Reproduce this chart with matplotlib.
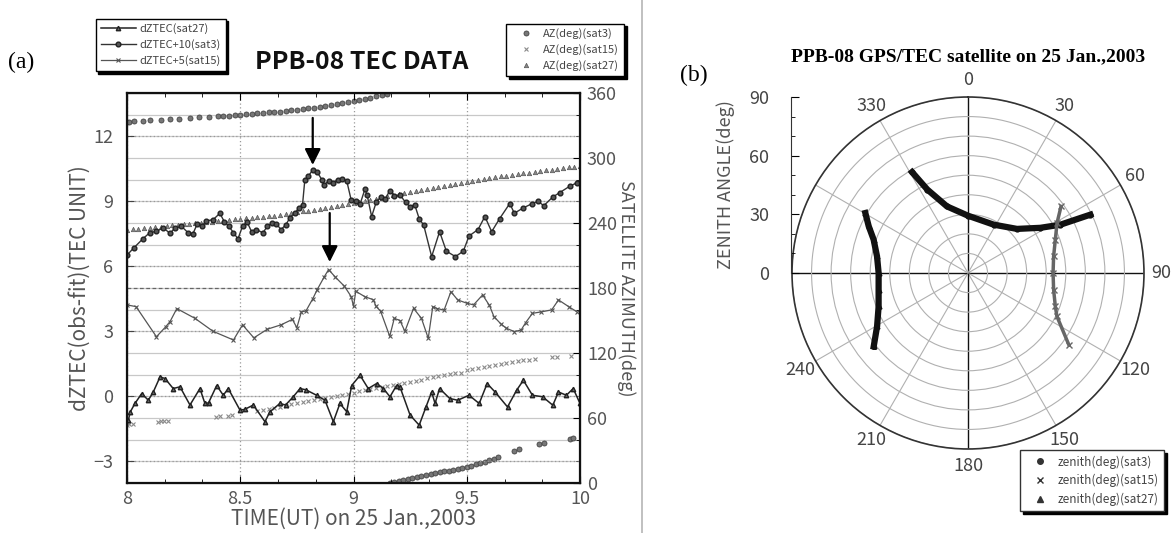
import numpy as np
import matplotlib
matplotlib.use("Agg")
import matplotlib.pyplot as plt
from matplotlib.ticker import MultipleLocator, FixedLocator
from matplotlib.lines import Line2D

NARROW = ["Noto Sans CJK JP", "DejaVu Sans"]
SERIF = ["Liberation Serif", "DejaVu Serif"]
plt.rcParams["font.family"] = NARROW

# ---------- dZTEC series (left axis, TEC unit) ----------
t_sat3 = [8.00, 8.03, 8.07, 8.10, 8.13, 8.16, 8.19, 8.21, 8.24, 8.27, 8.29, 8.31,
          8.33, 8.35, 8.38, 8.41, 8.43, 8.45, 8.47, 8.49, 8.51, 8.53, 8.55, 8.57,
          8.60, 8.62, 8.64, 8.66, 8.68, 8.70, 8.72, 8.74, 8.76, 8.775, 8.785, 8.80,
          8.82, 8.84, 8.86, 8.87, 8.89, 8.91, 8.93, 8.95, 8.97, 8.99, 9.01, 9.03,
          9.05, 9.06, 9.08, 9.10, 9.12, 9.14, 9.16, 9.18, 9.205, 9.23, 9.25, 9.27,
          9.29, 9.31, 9.345, 9.38, 9.41, 9.45, 9.485, 9.51, 9.55, 9.58, 9.61, 9.645,
          9.69, 9.71, 9.75, 9.79, 9.815, 9.84, 9.88, 9.91, 9.955, 9.985]
dz_sat3 = [6.52, 6.85, 7.27, 7.55, 7.62, 7.78, 7.52, 7.75, 7.85, 7.55, 7.48, 7.95,
           7.85, 8.10, 8.15, 8.45, 8.05, 7.85, 7.55, 7.27, 7.85, 8.05, 7.60, 7.70,
           7.55, 7.85, 8.00, 7.95, 7.70, 7.90, 8.25, 8.45, 8.70, 8.85, 9.98, 10.15,
           10.45, 10.35, 10.00, 9.75, 9.95, 9.85, 10.00, 10.05, 9.95, 9.05, 9.00, 8.90,
           9.55, 9.30, 8.30, 8.95, 9.20, 9.10, 9.50, 9.25, 9.30, 8.95, 8.75, 8.85,
           8.20, 7.90, 6.45, 7.60, 6.70, 6.45, 6.70, 7.40, 7.70, 8.30, 7.60, 8.20,
           8.90, 8.45, 8.70, 8.90, 9.00, 8.80, 9.20, 9.40, 9.70, 9.85]

t_sat15 = [8.00, 8.04, 8.13, 8.17, 8.19, 8.22, 8.30, 8.38, 8.47, 8.51, 8.56, 8.62,
           8.68, 8.73, 8.75, 8.77, 8.79, 8.82, 8.84, 8.87, 8.89, 8.92, 8.96, 8.99,
           9.00, 9.01, 9.05, 9.087, 9.10, 9.12, 9.16, 9.18, 9.205, 9.227, 9.265, 9.30,
           9.33, 9.35, 9.37, 9.40, 9.43, 9.46, 9.50, 9.53, 9.57, 9.60, 9.62, 9.65,
           9.675, 9.71, 9.74, 9.76, 9.79, 9.83, 9.875, 9.905, 9.95, 9.985]
dz_sat15 = [4.22, 4.14, 2.75, 3.20, 3.45, 4.05, 3.60, 3.00, 2.60, 3.30, 2.70, 3.10,
            3.30, 3.55, 3.17, 3.90, 3.94, 4.50, 4.93, 5.50, 5.85, 5.50, 5.08, 4.60,
            4.15, 4.85, 4.60, 4.46, 4.15, 3.92, 2.77, 3.60, 3.50, 3.00, 4.06, 3.60,
            2.68, 4.14, 4.05, 3.98, 4.83, 4.45, 4.30, 4.22, 4.68, 4.20, 3.68, 3.35,
            3.14, 2.99, 3.06, 3.40, 3.83, 3.90, 3.99, 4.45, 4.14, 3.91]

t_sat27 = [8.006, 8.015, 8.035, 8.065, 8.094, 8.116, 8.146, 8.168, 8.204, 8.234, 8.278,
           8.322, 8.344, 8.36, 8.396, 8.425, 8.447, 8.499, 8.52, 8.558, 8.609, 8.631,
           8.675, 8.70, 8.734, 8.764, 8.79, 8.837, 8.874, 8.911, 8.94, 8.97, 8.992,
           9.029, 9.065, 9.102, 9.132, 9.161, 9.19, 9.205, 9.25, 9.29, 9.32, 9.345,
           9.36, 9.38, 9.425, 9.46, 9.51, 9.555, 9.59, 9.625, 9.68, 9.72, 9.75, 9.79,
           9.835, 9.88, 9.905, 9.94, 9.97, 10.0]
dz_sat27 = [-1.09, -0.71, -0.33, 0.13, -0.18, 0.20, 0.90, 0.82, 0.36, 0.44, -0.40,
            0.36, -0.33, -0.30, 0.50, 0.05, 0.36, -0.64, -0.60, -0.40, -1.17, -0.71,
            -0.33, -0.40, -0.02, 0.36, 0.30, 0.05, -0.18, -1.17, -0.33, -0.71, 0.50,
            0.97, 0.36, 0.59, 0.36, -0.02, 0.50, 0.44, -0.87, -1.33, -0.49, 0.20,
            -0.33, 0.36, -0.10, -0.18, 0.05, -0.33, 0.59, 0.20, -0.49, 0.28, 0.74, 0.05,
            -0.02, -0.41, 0.20, 0.05, 0.36, -0.33]

# ---------- satellite azimuth (right axis, deg) ----------
taz_sat3 = [8.00, 8.01, 8.03, 8.07, 8.10, 8.15, 8.19, 8.23, 8.28, 8.32, 8.36, 8.40,
            8.425, 8.45, 8.475, 8.50, 8.525, 8.55, 8.575, 8.60, 8.625, 8.65, 8.675,
            8.70, 8.725, 8.75, 8.775, 8.80, 8.825, 8.85, 8.875, 8.90, 8.925, 8.95,
            8.975, 9.00, 9.025, 9.05, 9.075, 9.10, 9.125, 9.15,
            9.16, 9.18, 9.20, 9.22, 9.24, 9.26, 9.28, 9.30, 9.32, 9.34, 9.36, 9.38,
            9.40, 9.42, 9.44, 9.46, 9.48, 9.50, 9.52, 9.54, 9.56, 9.58, 9.60, 9.62,
            9.64, 9.71, 9.73, 9.82, 9.84, 9.955, 9.97]
az_sat3 = [333.5, 333.6, 333.9, 334.4, 334.8, 335.3, 335.8, 336.3, 336.9, 337.4, 337.9,
           338.4, 338.8, 339.2, 339.5, 339.9, 340.3, 340.7, 341.1, 341.5, 342.0, 342.4,
           342.9, 343.4, 343.9, 344.5, 345.1, 345.7, 346.4, 347.1, 347.9, 348.7, 349.6,
           350.5, 351.5, 352.5, 353.6, 354.7, 355.8, 357.0, 358.2, 359.4,
           0.3, 1.2, 2.0, 2.9, 3.7, 4.6, 5.4, 6.3, 7.2, 8.0, 8.9, 9.8,
           10.7, 11.5, 12.4, 13.3, 14.2, 15.1, 16.1, 17.1, 18.2, 19.6, 21.0, 22.6,
           24.2, 30.0, 31.2, 36.0, 37.0, 41.0, 41.5]

taz_sat15 = [8.00, 8.01, 8.025, 8.135, 8.15, 8.165, 8.18, 8.395, 8.41, 8.445, 8.465,
             8.575, 8.60, 8.625, 8.65, 8.675, 8.70, 8.725, 8.75, 8.775, 8.80, 8.825,
             8.85, 8.875, 8.90, 8.925, 8.95, 8.975, 9.00, 9.025, 9.05, 9.075, 9.10,
             9.125, 9.15, 9.175, 9.20, 9.225, 9.25, 9.275, 9.30, 9.325, 9.35, 9.375,
             9.40, 9.425, 9.45, 9.475, 9.50, 9.525, 9.55, 9.575, 9.60, 9.625, 9.65,
             9.675, 9.70, 9.725, 9.75, 9.775, 9.80, 9.875, 9.90, 9.96]
az_sat15 = [54.0, 54.2, 54.5, 56.5, 56.8, 57.1, 57.4, 61.3, 61.6, 62.3, 62.7,
            66.5, 67.5, 68.5, 69.5, 70.5, 71.5, 72.5, 73.5, 74.5, 75.5, 76.5,
            77.5, 78.5, 79.5, 80.5, 81.5, 82.5, 83.5, 84.5, 85.5, 86.5, 87.5,
            88.5, 89.5, 90.5, 91.5, 92.5, 93.5, 94.5, 95.5, 96.5, 97.5, 98.5,
            99.5, 100.3, 101.2, 102.0, 104.0, 105.0, 106.0, 107.0, 108.0, 109.0, 110.0,
            111.0, 111.8, 112.5, 113.2, 113.9, 114.5, 116.0, 116.5, 117.5]

taz_sat27 = [8.000, 8.025, 8.050, 8.075, 8.100, 8.125, 8.150, 8.175, 8.200, 8.225,
             8.250, 8.275, 8.300, 8.325, 8.350, 8.375, 8.400, 8.425, 8.450, 8.475,
             8.500, 8.525, 8.550, 8.575, 8.600, 8.625, 8.650, 8.675, 8.700, 8.725,
             8.750, 8.775, 8.800, 8.825, 8.850, 8.875, 8.900, 8.925, 8.950, 8.975,
             9.000, 9.025, 9.050, 9.075, 9.100, 9.125, 9.150, 9.175, 9.200, 9.225,
             9.250, 9.275, 9.300, 9.325, 9.350, 9.375, 9.400, 9.425, 9.450, 9.475,
             9.500, 9.525, 9.550, 9.575, 9.600, 9.625, 9.650, 9.675, 9.700, 9.725,
             9.750, 9.775, 9.800, 9.825, 9.850, 9.875, 9.900, 9.925, 9.950, 9.975,
             10.000]
az_sat27 = [233.6, 234.1, 234.6, 235.1, 235.7, 236.2, 236.7, 237.2, 237.7, 238.2,
            238.8, 239.3, 239.8, 240.3, 240.8, 241.3, 241.8, 242.3, 242.9, 243.4,
            243.9, 244.4, 244.9, 245.4, 245.9, 246.4, 246.9, 247.5, 248.3, 249.1,
            249.9, 250.7, 251.5, 252.3, 253.1, 253.9, 254.7, 255.5, 256.3, 257.1,
            258.0, 259.1, 260.2, 261.3, 262.4, 263.5, 264.6, 265.7, 266.8, 267.9,
            269.0, 269.9, 270.7, 271.6, 272.5, 273.4, 274.2, 275.1, 276.0, 276.9,
            277.8, 278.6, 279.5, 280.4, 281.3, 282.1, 283.0, 283.7, 284.4, 285.1,
            285.8, 286.5, 287.2, 287.9, 288.6, 289.3, 290.0, 290.7, 291.4, 292.1,
            292.8]

# ---------- sky plot (azimuth deg, zenith deg) ----------
sky_az_sat3 = [-29.0, -26.0, -17.5, 0.0, 28.0, 48.0, 58.0, 62.4, 64.5]
sky_ze_sat3 = [59.0, 47.5, 35.7, 29.3, 28.0, 33.7, 43.6, 53.3, 69.3]
sky_az_sat15 = [54.4, 60.7, 69.1, 79.0, 90.0, 101.0, 110.9, 116.0, 125.4]
sky_ze_sat15 = [58.5, 52.2, 47.8, 44.6, 43.5, 44.6, 47.8, 50.6, 63.2]
sky_az_sat27 = [300.3, 295.2, 289.5, 280.4, 270.0, 259.4, 249.5, 239.6, 232.1]
sky_ze_sat27 = [60.8, 56.1, 51.2, 47.3, 45.7, 46.5, 48.8, 53.9, 61.1]

# arrows marking the enhancements (time, from, to)
arrows = [(8.82, 12.85, 10.68), (8.895, 8.46, 6.2)]

W, H = 1174, 533
fig = plt.figure(figsize=(W / 100, H / 100), dpi=100)


def fx(px):
    return px / W


def fy(py):
    return 1 - py / H


# ================= (a) TEC time series =================
ax = fig.add_axes([fx(127), fy(483), fx(580) - fx(127), fy(93) - fy(483)])
ax2 = ax.twinx()
ax.set_xlim(8, 10)
ax.set_ylim(-4, 14)
ax2.set_ylim(0, 360)

ax.set_zorder(2)
ax.patch.set_visible(False)
ax2.set_zorder(1)

# grid
ax.yaxis.set_major_locator(FixedLocator([-3, 0, 3, 6, 9, 12]))
ax.yaxis.set_minor_locator(MultipleLocator(1))
ax.xaxis.set_major_locator(FixedLocator([8, 8.5, 9, 9.5, 10]))
ax.xaxis.set_minor_locator(MultipleLocator(1 / 6))
ax2.patch.set_facecolor("white")
ax2.yaxis.set_major_locator(MultipleLocator(60))
ax2.yaxis.set_minor_locator(MultipleLocator(20))
ax2.grid(which="both", axis="y", color="#c8c8c8", lw=0.9, ls="-")
ax2.axhline(180, color="#666666", lw=0.9, ls=(0, (3, 2)))
ax.grid(which="major", axis="y", color="#999999", lw=0.9, ls=(0, (1, 2)))
ax.grid(which="major", axis="x", color="#999999", lw=0.9, ls=(0, (1, 2)))

# azimuth markers
ax2.plot(taz_sat3, az_sat3, ls="none", marker="o", ms=3.6, mfc="#777777",
         mec="#444444", mew=0.6, label="AZ(deg)(sat3)")
ax2.plot(taz_sat15, az_sat15, ls="none", marker="x", ms=3.5, color="#8a8a8a",
         mew=0.8, label="AZ(deg)(sat15)")
ax2.plot(taz_sat27, az_sat27, ls="none", marker="^", ms=3.2, mfc="#888888",
         mec="#555555", mew=0.5, label="AZ(deg)(sat27)")

# dZTEC lines
ax.plot(t_sat27, dz_sat27, color="#222222", lw=1.1, marker="^", ms=3.2,
        mfc="#666666", mec="#222222", label="dZTEC(sat27)")
ax.plot(t_sat3, dz_sat3, color="#333333", lw=1.0, marker="o", ms=3.4,
        mfc="#555555", mec="#222222", label="dZTEC+10(sat3)")
ax.plot(t_sat15, dz_sat15, color="#555555", lw=0.9, marker="x", ms=3.4,
        mew=0.8, label="dZTEC+5(sat15)")

for t, y0, y1 in arrows:
    ax.annotate("", xy=(t, y1), xytext=(t, y0),
                arrowprops=dict(arrowstyle="-|>", color="black", lw=1.6,
                                mutation_scale=24, shrinkA=0, shrinkB=0))

ax.set_xticklabels(["8", "8.5", "9", "9.5", "10"])
ax.tick_params(axis="x", which="both", direction="in", top=True, labelsize=13,
               pad=5)
ax.tick_params(axis="x", which="major", length=5)
ax.tick_params(axis="x", which="minor", length=3)
ax.tick_params(axis="y", which="major", direction="in", length=5, labelsize=13,
               pad=10, colors="#444444", labelcolor="#555555")
ax.tick_params(axis="y", which="minor", length=0)
ax2.tick_params(axis="y", which="major", direction="in", length=5, labelsize=13,
                pad=5, labelcolor="#555555")
ax2.tick_params(axis="y", which="minor", direction="in", length=3)
ax.tick_params(axis="x", labelcolor="#555555")
for s in ax.spines.values():
    s.set_linewidth(1.6)
    s.set_color("#111111")

ax.set_xlabel("TIME(UT) on 25 Jan.,2003", fontsize=15, color="#555555", labelpad=0)
ax.set_ylabel("dZTEC(obs-fit)(TEC UNIT)", fontsize=15, color="#555555", labelpad=2)
ax2.set_ylabel("SATELLITE AZIMUTH(deg)", fontsize=13, color="#555555",
               rotation=270, va="bottom", labelpad=0)

fig.text(fx(362), fy(62), "PPB-08 TEC DATA", ha="center", va="center",
         fontsize=18, fontweight="bold", color="#111111")
fig.text(fx(8), fy(62), "(a)", ha="left", va="center", fontsize=17,
         family=SERIF)

leg_kw = dict(frameon=True, fancybox=False, fontsize=8, borderpad=0.45,
              labelspacing=0.45, handletextpad=0.3,
              shadow={"color": "black", "alpha": 1.0})
h1, l1 = ax.get_legend_handles_labels()
lg1 = fig.legend(h1, l1, loc="upper left", bbox_to_anchor=(fx(90), fy(13)),
                 handlelength=3.2, numpoints=1, **leg_kw)
h2, l2 = ax2.get_legend_handles_labels()
lg2 = fig.legend(h2, l2, loc="upper right", bbox_to_anchor=(fx(630), fy(18)),
                 handlelength=2.6, numpoints=1, **leg_kw)
for lg in (lg1, lg2):
    lg.get_frame().set_edgecolor("black")
    lg.get_frame().set_linewidth(1.0)
    for txt in lg.get_texts():
        txt.set_color("#444444")

# divider between panels
fig.add_artist(Line2D([fx(642), fx(642)], [0, 1], color="#bbbbbb", lw=1.3))

# ================= (b) sky plot =================
cx, cy, R = 968, 273, 176
pax = fig.add_axes([fx(cx - R), fy(cy + R), fx(2 * R), (2 * R) / H],
                   projection="polar")
pax.set_theta_zero_location("N")
pax.set_theta_direction(-1)
pax.set_rlim(0, 90)
pax.set_rgrids(range(10, 91, 10), labels=[""] * 9)
ang = list(range(0, 360, 30))
pax.set_thetagrids(ang, labels=["" if a in (270, 300) else str(a) for a in ang],
                   fontsize=13, color="#444444")
pax.tick_params(axis="x", pad=2)
pax.grid(True, color="#b0b0b0", lw=0.8)
for i, gl in enumerate(pax.xaxis.get_gridlines()):
    if i % 3 == 0:
        gl.set_color("#111111")
        gl.set_linewidth(1.0)
pax.spines["polar"].set_color("#333333")
pax.spines["polar"].set_linewidth(1.2)

pax.plot(np.radians(sky_az_sat3), sky_ze_sat3, color="#111111", lw=4.5,
         marker="o", ms=3.5, label="zenith(deg)(sat3)")
pax.plot(np.radians(sky_az_sat15), sky_ze_sat15, color="#666666", lw=2.5,
         marker="x", ms=4, mew=1.0, label="zenith(deg)(sat15)")
pax.plot(np.radians(sky_az_sat27), sky_ze_sat27, color="#111111", lw=4.5,
         marker="^", ms=3.5, label="zenith(deg)(sat27)")

# zenith angle axis on the left
zax = fig.add_axes([fx(cx - R) - 0.0005, fy(cy), 0.0005, R / H])
zax.set_ylim(0, 90)
zax.set_xticks([])
for k in ("right", "top", "bottom"):
    zax.spines[k].set_visible(False)
zax.spines["left"].set_color("#333333")
zax.yaxis.set_major_locator(FixedLocator([0, 30, 60, 90]))
zax.yaxis.set_minor_locator(MultipleLocator(10))
zax.tick_params(axis="y", which="major", direction="in", length=6, pad=16,
                labelsize=13, labelcolor="#444444")
zax.tick_params(axis="y", which="minor", direction="in", length=3)
zax.patch.set_visible(False)
zax.set_ylabel("ZENITH ANGLE(deg)", fontsize=13, color="#555555", labelpad=10)

fig.text(fx(cx), fy(57), "PPB-08 GPS/TEC satellite on 25 Jan.,2003",
         ha="center", va="center", fontsize=14, fontweight="bold",
         family=SERIF)
fig.text(fx(680), fy(75), "(b)", ha="left", va="center", fontsize=17,
         family=SERIF)

h3, l3 = pax.get_legend_handles_labels()
h3 = [Line2D([], [], ls="none", marker=h.get_marker(), ms=4, color="#333333")
      for h in h3]
lg3 = fig.legend(h3, l3, loc="lower right", bbox_to_anchor=(fx(1170), fy(517)),
                 handlelength=2.4, numpoints=1,
                 **{**leg_kw, "fontsize": 8.5})
lg3.get_frame().set_edgecolor("#333333")
for txt in lg3.get_texts():
    txt.set_color("#444444")

fig.savefig("out.png", dpi=100)
